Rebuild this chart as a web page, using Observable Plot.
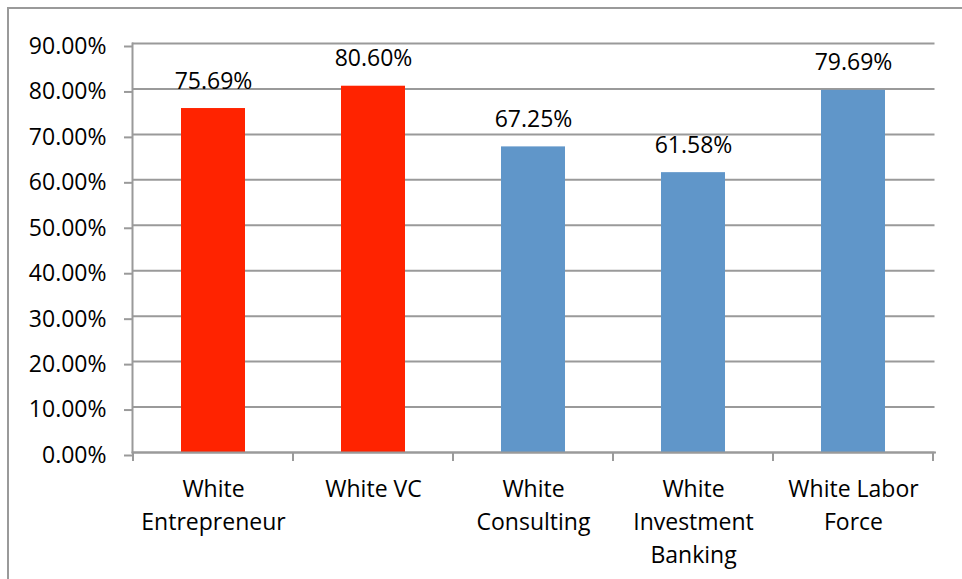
<!DOCTYPE html>
<html><head><meta charset="utf-8">
<script src="https://cdn.jsdelivr.net/npm/d3@7"></script>
<script src="https://cdn.jsdelivr.net/npm/@observablehq/plot@0.6"></script>
<style>
body{margin:0;background:#fff;}
#wrap{position:relative;width:962px;height:579px;overflow:hidden;background:#fff;}
#border{position:absolute;left:7px;top:7px;width:2000px;height:2000px;border:2px solid #9a9a9a;box-sizing:border-box;}
#chart{position:absolute;left:0;top:0;}
</style></head><body>
<div id="wrap"><div id="border"></div><div id="chart"></div></div>
<script>
const categories = ["White\nEntrepreneur", "White VC", "White\nConsulting", "White\nInvestment\nBanking", "White Labor\nForce"];
const values = [75.69, 80.60, 67.25, 61.58, 79.69];
const groups = ["entrepreneur", "entrepreneur", "other", "other", "other"];
const yTicks = [0, 10, 20, 30, 40, 50, 60, 70, 80, 90];
const colors = {entrepreneur: "#ff2300", other: "#6096c9"};

const data = categories.map((c, i) => ({category: c, value: values[i], group: groups[i]}));
const gray = "#9a9a9a";
const fs = 23;

function boundaryTicks(index, scales) {
  const x = scales.x, y = scales.y;
  let step, bw;
  if (typeof x.step === "function") { step = x.step(); bw = x.bandwidth(); }
  else { const r = x.range ? x.range() : [132, 934]; step = (r[1] - r[0]) / categories.length; bw = step * 0.4; }
  const xs = categories.map(c => x(c) + bw / 2 - step / 2);
  xs.push(x(categories[categories.length - 1]) + bw / 2 + step / 2);
  const y0 = y(0);
  const g = d3.create("svg:g").attr("stroke", gray).attr("stroke-width", 2);
  g.selectAll("line").data(xs).join("line")
    .attr("x1", d => d).attr("x2", d => d).attr("y1", y0).attr("y2", y0 + 9);
  return g.node();
}

const plot = Plot.plot({
  width: 962,
  height: 579,
  marginLeft: 132,
  marginRight: 27.5,
  marginTop: 43,
  marginBottom: 127,
  style: {fontFamily: "'Open Sans', 'Noto Sans', sans-serif", fontSize: fs + "px", background: "transparent", color: "#000"},
  x: {domain: categories, paddingInner: 0.6, paddingOuter: 0.3, label: null},
  y: {domain: [0, 90], label: null},
  marks: [
    Plot.gridY(yTicks, {stroke: gray, strokeOpacity: 1, strokeWidth: 2}),
    Plot.barY(data, {x: "category", y: "value", fill: d => colors[d.group]}),
    Plot.frame({anchor: "left", stroke: gray, strokeWidth: 2}),
    Plot.frame({anchor: "bottom", stroke: gray, strokeWidth: 2}),
    boundaryTicks,
    Plot.axisY({ticks: yTicks, tickFormat: d => d.toFixed(2) + "%", tickSize: 8, tickPadding: 18, stroke: gray, strokeWidth: 2, fill: "#000", fontSize: fs, dy: 3, label: null}),
    Plot.axisX({tickSize: 0, tickPadding: 21, fontSize: fs, lineHeight: 1.435, fill: "#000", label: null}),
    Plot.text(data, {x: "category", y: "value", text: d => d.value.toFixed(2) + "%", lineAnchor: "middle", dy: -27.4, fontSize: fs, fill: "#000"})
  ]
});
document.getElementById("chart").appendChild(plot);
</script>
</body></html>
